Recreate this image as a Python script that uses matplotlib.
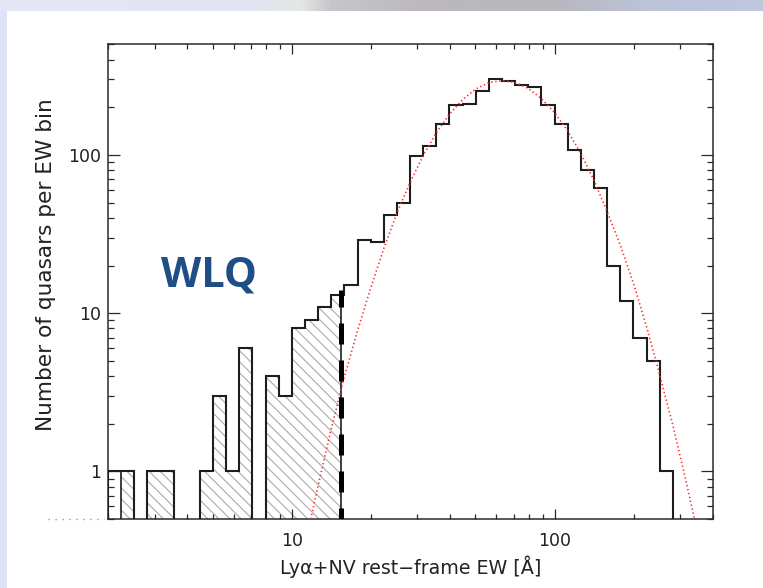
import numpy as np
import matplotlib.pyplot as plt
from matplotlib.patches import Rectangle
from matplotlib.lines import Line2D
from matplotlib.ticker import FormatStrFormatter, NullFormatter, LogLocator

# bin edges of the histogram (rest-frame EW, Angstrom), 0.05 dex wide
ew_edges = [1.995, 2.239, 2.512, 2.818, 3.162, 3.548, 3.981, 4.467, 5.012, 5.623,
            6.310, 7.079, 7.943, 8.913, 10.00, 11.22, 12.59, 14.13, 15.85, 17.78,
            19.95, 22.39, 25.12, 28.18, 31.62, 35.48, 39.81, 44.67, 50.12, 56.23,
            63.10, 70.79, 79.43, 89.13, 100.0, 112.2, 125.9, 141.3, 158.5, 177.8,
            199.5, 223.9, 251.2, 281.8]

# all quasars per bin
n_all = [1, 1, 0, 1, 1, 0, 0, 1, 3, 1,
         6, 0, 4, 3, 8, 9, 11, 13, 15, 29,
         28, 42, 50, 99, 114, 157, 207, 210, 254, 303,
         295, 276, 270, 207, 157, 108, 80, 62, 20, 12,
         7, 5, 1]

# weak-line quasars (hatched), bins from 2.24 A up to the cut
n_wlq = [1, 0, 1, 1, 0, 0, 1, 3, 1, 6, 0, 4, 3, 8, 9, 11, 13]
wlq_cut = 15.4

# log-normal fit (red dotted)
fit_ew = [11.8, 12.6, 14.1, 15.8, 17.8, 20.0, 22.4, 25.1, 28.2, 31.6, 35.5,
          39.8, 44.7, 50.1, 56.2, 63.1, 70.8, 79.4, 89.1, 100, 112,
          126, 141, 158, 178, 200, 224, 251, 282, 316, 341]
fit_n = [0.5, 0.82, 1.84, 3.9, 7.8, 14.6, 25.7, 42.9, 67, 99, 138,
         181, 224, 261, 286, 295, 287, 263, 227, 185, 142,
         102, 69.5, 44.5, 26.9, 15.3, 8.2, 4.1, 1.96, 0.88, 0.5]

xmin, xmax = 2, 400
ymin, ymax = 0.5, 500

plt.rcParams['font.family'] = ['DejaVu Sans']
plt.rcParams['hatch.linewidth'] = 0.8
plt.rcParams['hatch.color'] = '#ababab'

fig = plt.figure(figsize=(7.63, 5.88), dpi=100)

# slide decoration: lavender strip at left, gradient strip at top
fig.add_artist(Rectangle((0, 0), 7 / 763, 1, transform=fig.transFigure,
                         color='#dfe2f6', lw=0, zorder=0))
stops_x = [0, 250, 300, 330, 420, 560, 650, 763]
stops_c = ['#e4e6f6', '#e2e6f2', '#e4e8e4', '#c8c6cc', '#bdb9bd', '#b8b8c0', '#bcc4d8', '#c0c8e0']
rgb = np.array([[int(c[i:i + 2], 16) / 255 for i in (1, 3, 5)] for c in stops_c])
xs = np.arange(763)
strip = np.stack([np.interp(xs, stops_x, rgb[:, k]) for k in range(3)], axis=-1)[None, :, :]
bg = fig.add_axes([0, 1 - 11 / 588, 1, 11 / 588])
bg.imshow(strip, aspect='auto')
bg.axis('off')

ax = fig.add_axes([108.3 / 763, 1 - 519 / 588, 604.4 / 763, 474.7 / 588])
ax.set_xscale('log')
ax.set_yscale('log')

# hatched WLQ histogram
wlq_edges = ew_edges[1:len(n_wlq) + 1] + [wlq_cut]
hy = [max(v, ymin) for v in n_wlq] + [max(n_wlq[-1], ymin)]
ax.fill_between(wlq_edges, ymin, hy, step='post', facecolor='none',
                edgecolor='#ababab', linewidth=0, hatch='\\\\\\')
wvals = [v if v > 0 else 0.1 for v in n_wlq]
ax.stairs(wvals, wlq_edges, baseline=0.1, color='#1e1e1e', lw=1.2, zorder=3)

# full histogram outline
vals = [v if v > 0 else 0.1 for v in n_all]
ax.stairs(vals, ew_edges, baseline=0.1, color='#1e1e1e', lw=1.5, zorder=3)

# fit
ax.plot(fit_ew, fit_n, color='#ff2a2a', lw=1.2, linestyle=(0, (0.8, 1.6)), zorder=4)

# WLQ limit
ax.plot([wlq_cut, wlq_cut], [ymin, 14], color='black', lw=3.6,
        linestyle=(2.0, (4.2, 3.2)), solid_capstyle='butt', zorder=5)

ax.set_xlim(xmin, xmax)
ax.set_ylim(ymin, ymax)

for s in ax.spines.values():
    s.set_linewidth(1.1)
    s.set_color('#2a2a2a')

ax.xaxis.set_major_locator(LogLocator(base=10))
ax.yaxis.set_major_locator(LogLocator(base=10))
ax.xaxis.set_minor_locator(LogLocator(base=10, subs=np.arange(2, 10)))
ax.yaxis.set_minor_locator(LogLocator(base=10, subs=np.arange(2, 10)))
ax.xaxis.set_major_formatter(FormatStrFormatter('%g'))
ax.yaxis.set_major_formatter(FormatStrFormatter('%g'))
ax.xaxis.set_minor_formatter(NullFormatter())
ax.yaxis.set_minor_formatter(NullFormatter())
ax.tick_params(which='both', direction='in', top=True, right=True,
               color='#2a2a2a', width=0.9, labelsize=12.5, labelcolor='#222222')
ax.tick_params(axis='x', which='major', length=7.5, pad=9)
ax.tick_params(axis='x', which='minor', length=3.8)
ax.tick_params(axis='y', which='major', length=8.5, pad=5)
ax.tick_params(axis='y', which='minor', length=4.3)

ax.set_xlabel('Lyα+NV rest−frame EW [Å]', fontsize=13.7, color='#222222', labelpad=4)
ax.set_ylabel('Number of quasars per EW bin', fontsize=15.6, color='#222222', labelpad=9)
ax.yaxis.label.set_y(0.535)

fig.text(209 / 763, 1 - 286.7 / 588, 'WLQ', fontsize=30, fontweight='bold',
         family='Open Sans', color='#1f4e86', ha='center', va='baseline')

# dotted stub left of the axis
fig.add_artist(Line2D([48 / 763, 104 / 763], [1 - 519 / 588] * 2, transform=fig.transFigure,
                      color='#9a9a9a', lw=1, linestyle=(0, (1, 4))))

fig.savefig('out.png', dpi=100, facecolor='white')
